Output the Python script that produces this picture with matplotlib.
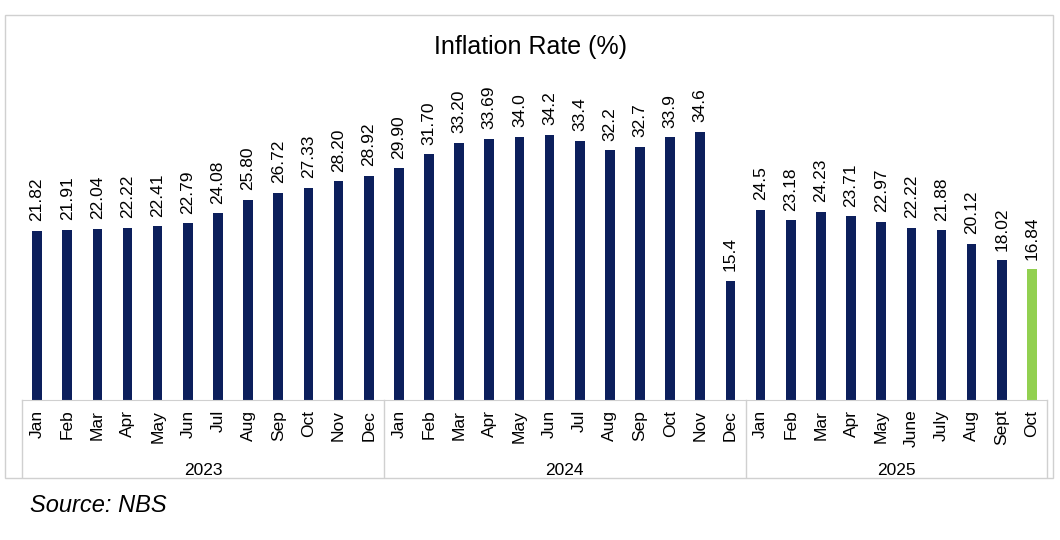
import matplotlib.pyplot as plt
from matplotlib.patches import Rectangle

plt.rcParams['font.family'] = ['Liberation Sans', 'DejaVu Sans']

# data
months = ['Jan', 'Feb', 'Mar', 'Apr', 'May', 'Jun', 'Jul', 'Aug', 'Sep', 'Oct', 'Nov', 'Dec',
          'Jan', 'Feb', 'Mar', 'Apr', 'May', 'Jun', 'Jul', 'Aug', 'Sep', 'Oct', 'Nov', 'Dec',
          'Jan', 'Feb', 'Mar', 'Apr', 'May', 'June', 'July', 'Aug', 'Sept', 'Oct']
years = ['2023', '2024', '2025']
months_per_year = [12, 12, 10]
rate = [21.82, 21.91, 22.04, 22.22, 22.41, 22.79, 24.08, 25.80, 26.72, 27.33, 28.20, 28.92,
        29.90, 31.70, 33.20, 33.69, 34.0, 34.2, 33.4, 32.2, 32.7, 33.9, 34.6, 15.4,
        24.5, 23.18, 24.23, 23.71, 22.97, 22.22, 21.88, 20.12, 18.02, 16.84]
rate_labels = ['21.82', '21.91', '22.04', '22.22', '22.41', '22.79', '24.08', '25.80', '26.72',
               '27.33', '28.20', '28.92', '29.90', '31.70', '33.20', '33.69', '34.0', '34.2',
               '33.4', '32.2', '32.7', '33.9', '34.6', '15.4', '24.5', '23.18', '24.23',
               '23.71', '22.97', '22.22', '21.88', '20.12', '18.02', '16.84']

navy = '#0c1f5c'
green = '#92d050'
grey = '#d0d0d0'

W, H = 1060, 540
fig = plt.figure(figsize=(W / 100, H / 100), dpi=100)

# axes: x from 22 to 1047 px, baseline at y=400, top at y=65
ax = fig.add_axes([22 / W, (H - 400) / H, (1047 - 22) / W, (400 - 65) / H])
x = list(range(len(rate)))
colors = [navy] * (len(rate) - 1) + [green]
ax.bar(x, rate, width=0.32, color=colors)
ax.set_xlim(-0.5, len(rate) - 0.5)
ax.set_ylim(0, 335 / 7.75)

for xi, v, lab in zip(x, rate, rate_labels):
    ax.annotate(lab, (xi, v), xytext=(0, 7), textcoords='offset points',
                rotation=90, ha='center', va='bottom', fontsize=12.5)

ax.set_xticks(x)
ax.set_xticklabels(months, rotation=90, fontsize=12.5)
ax.tick_params(axis='x', length=0, pad=7)
ax.set_yticks([])
for s in ['top', 'left', 'right']:
    ax.spines[s].set_visible(False)
ax.spines['bottom'].set_color(grey)

# category box below the axis
box_depth = 77 / 335
tr = ax.get_xaxis_transform()
edges = [-0.5]
for n in months_per_year:
    edges.append(edges[-1] + n)
for e in edges:
    ax.plot([e, e], [0, -box_depth], color=grey, lw=1, transform=tr, clip_on=False)
for i, yr in enumerate(years):
    ax.text((edges[i] + edges[i + 1]) / 2, -63 / 335, yr, transform=tr,
            ha='center', va='top', fontsize=12.5)

# outer chart border
fig.add_artist(Rectangle((5 / W, (H - 478) / H), (1053 - 5) / W, (478 - 15) / H,
                         transform=fig.transFigure, fill=False, edgecolor=grey, lw=1))

fig.text(530 / W, (H - 47) / H, 'Inflation Rate (%)', ha='center', va='center', fontsize=18)
fig.text(30 / W, (H - 505) / H, 'Source: NBS', ha='left', va='center', fontsize=17,
         style='italic')

fig.savefig('out.png', dpi=100)
